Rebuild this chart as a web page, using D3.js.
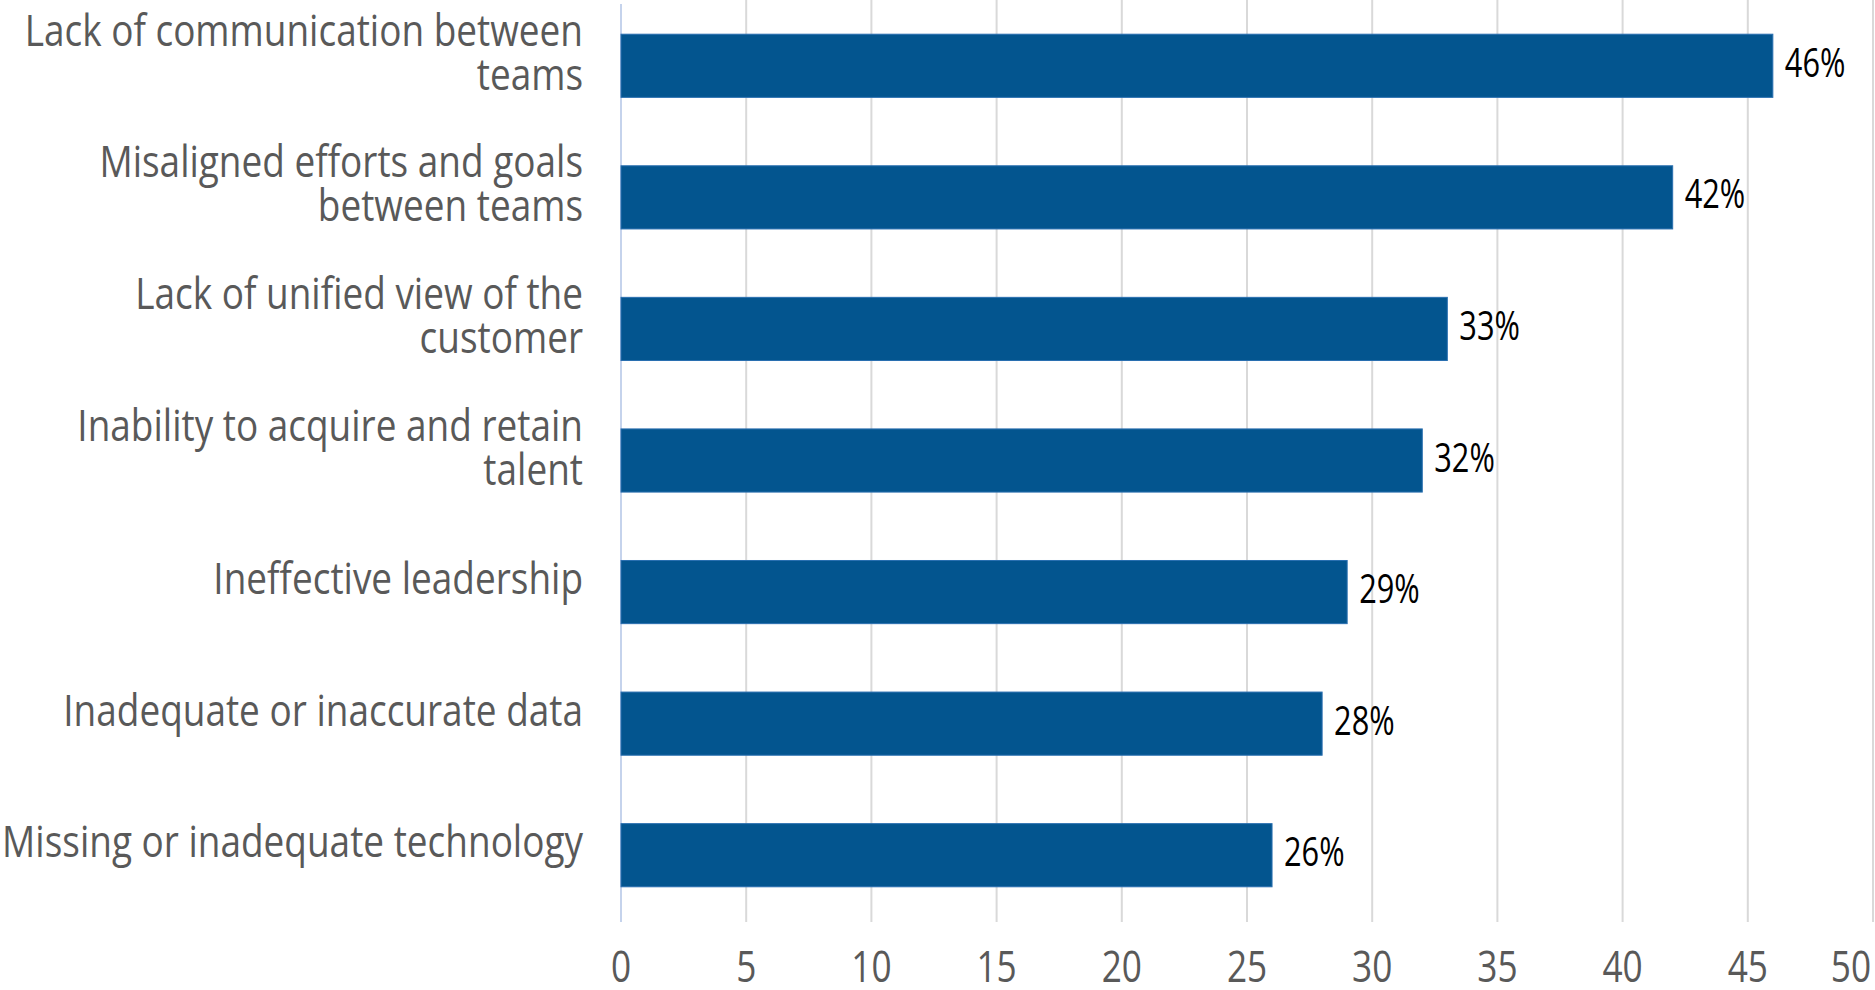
<!DOCTYPE html>
<html>
<head>
<meta charset="utf-8">
<script src="https://cdn.jsdelivr.net/npm/d3@7"></script>
<style>
	body { margin: 0; background: #fff; }
	text { font-family: "Open Sans", sans-serif; }
</style>
</head>
<body>
<div id="chart"></div>
<script>
var width = 1875,
	height = 990;

// data
var categories = [
	["Lack of communication between", "teams"],
	["Misaligned efforts and goals", "between teams"],
	["Lack of unified view of the", "customer"],
	["Inability to acquire and retain", "talent"],
	["Ineffective leadership"],
	["Inadequate or inaccurate data"],
	["Missing or inadequate technology"]
];
var values = [46, 42, 33, 32, 29, 28, 26];
var tickValues = [0, 5, 10, 15, 20, 25, 30, 35, 40, 45, 50];

// text looks squeezed sideways in the original
var catSqueeze = 0.84,
	valSqueeze = 0.75,
	tickSqueeze = 0.8;

var svg = d3.select("#chart")
	.append("svg")
	.attr("width", width)
	.attr("height", height);

var x = d3.scaleLinear()
	.domain([0, 50])
	.range([621, 1873]);

var y = d3.scaleBand()
	.domain(d3.range(values.length))
	.range([0, 921])
	.paddingInner(0.52)
	.paddingOuter(0.26);

//gridlines
svg.append("g")
	.selectAll("line")
	.data(tickValues.slice(1))
	.enter()
	.append("line")
	.attr("x1", function(d){ return x(d); })
	.attr("x2", function(d){ return x(d); })
	.attr("y1", 0)
	.attr("y2", 922)
	.attr("stroke", "#d9d9d9")
	.attr("stroke-width", 2);

// axis line at zero
svg.append("line")
	.attr("x1", x(0))
	.attr("x2", x(0))
	.attr("y1", 4)
	.attr("y2", 922)
	.attr("stroke", "#c5d3ec")
	.attr("stroke-width", 2);

//bars
svg.append("g")
	.selectAll("rect")
	.data(values)
	.enter()
	.append("rect")
	.attr("x", x(0))
	.attr("y", function(d, i){ return y(i); })
	.attr("width", function(d){ return x(d) - x(0); })
	.attr("height", y.bandwidth())
	.attr("fill", "#03558f")
	.attr("stroke", "#2a6fb0")
	.attr("stroke-width", 1);

// value labels
svg.append("g")
	.selectAll("text")
	.data(values)
	.enter()
	.append("text")
	.attr("transform", function(d, i){
		return "translate(" + (x(d) + 12) + "," + (y(i) + y.bandwidth() / 2 + 11) + ") scale(" + valSqueeze + ",1)";
	})
	.attr("font-size", 41)
	.attr("fill", "#000")
	.text(function(d){ return d + "%"; });

// category labels
var cat = svg.append("g")
	.selectAll("g")
	.data(categories)
	.enter()
	.append("g")
	.attr("transform", function(d, i){
		return "translate(583," + (y(i) + y.bandwidth() / 2 + 2) + ")";
	});

cat.selectAll("text")
	.data(function(d){ return d.map(function(t, k){ return {t: t, k: k, n: d.length}; }); })
	.enter()
	.append("text")
	.attr("transform", function(d){
		var dy = d.n == 1 ? 0 : (d.k == 0 ? -22 : 22);
		return "translate(0," + dy + ") scale(" + catSqueeze + ",1)";
	})
	.attr("text-anchor", "end")
	.attr("font-size", 44)
	.attr("fill", "#595959")
	.text(function(d){ return d.t; });

// x tick labels, last one pulled in to fit
svg.append("g")
	.selectAll("text")
	.data(tickValues)
	.enter()
	.append("text")
	.attr("transform", function(d, i){
		var tx = i == tickValues.length - 1 ? 1871 : x(d);
		return "translate(" + tx + ",982) scale(" + tickSqueeze + ",1)";
	})
	.attr("text-anchor", function(d, i){ return i == tickValues.length - 1 ? "end" : "middle"; })
	.attr("font-size", 44)
	.attr("fill", "#595959")
	.text(function(d){ return d; });
</script>
</body>
</html>
